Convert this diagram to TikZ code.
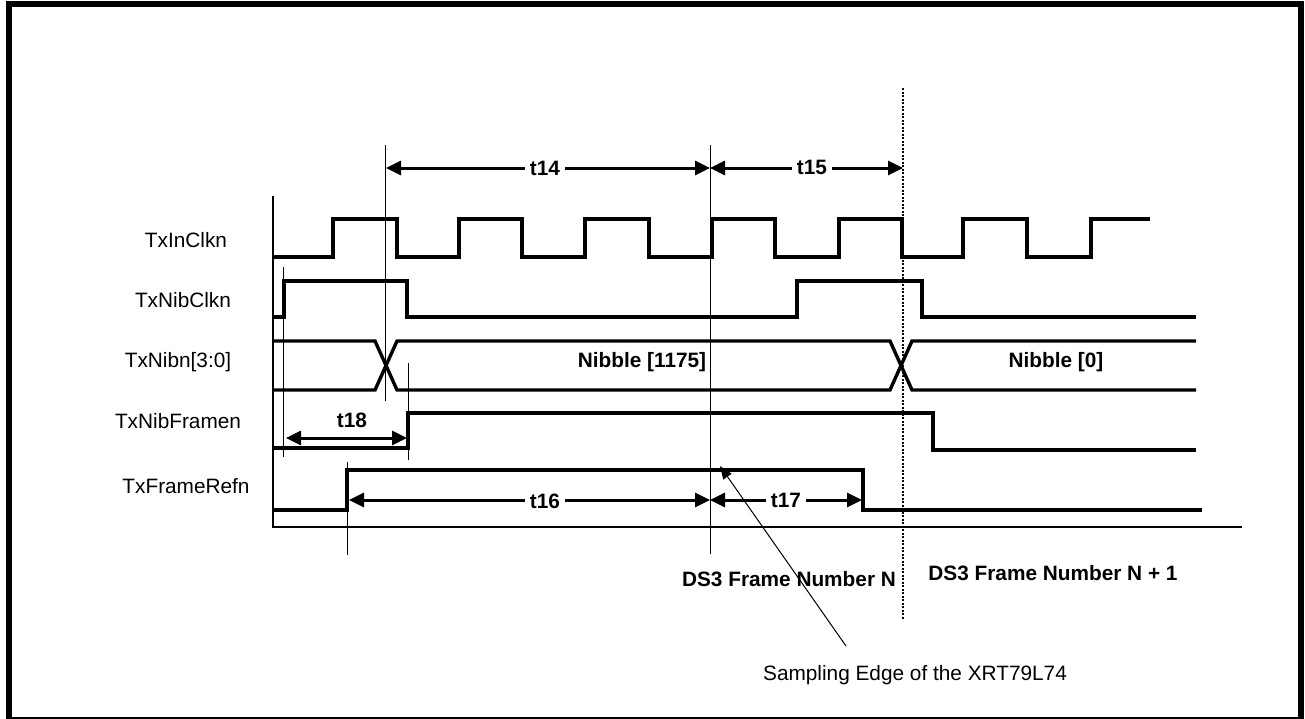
\documentclass[tikz,border=0pt]{standalone}
\usepackage{fontspec}
\setmainfont{Liberation Sans}
\usetikzlibrary{arrows.meta}
\begin{document}
\begin{tikzpicture}[x=1pt,y=-1pt,
  wave/.style={line width=3.4pt, line join=miter, line cap=butt},
  hair/.style={line width=1pt},
  dimarrow/.style={line width=3pt, {Triangle[length=15pt,width=14pt]}-{Triangle[length=15pt,width=14pt]}},
  sig/.style={font=\fontsize{20.8}{24}\selectfont, anchor=base, inner sep=0pt},
  lbl/.style={font=\fontsize{20.8}{24}\selectfont\bfseries, anchor=base, inner sep=0pt},
  dimlbl/.style={lbl, fill=white, inner xsep=5pt, inner ysep=1pt},
]
\useasboundingbox (0,0) rectangle (1305,718);
\draw[line width=5.5pt] (8.8,3.8) rectangle (1301,719.5);

% axis
\draw[line width=1.5pt] (273,196) -- (273,527) -- (1242,527);

% reference lines
\draw[hair] (385,145) -- (385,401);
\draw[hair] (710,145) -- (710,554);
\draw[hair] (283,267) -- (283,457);
\draw[hair] (408,363) -- (408,460);
\draw[hair] (347,462) -- (347,555);
\draw[line width=2pt, dash pattern=on 2pt off 1.5pt] (903,88) -- (903,620);

% signal labels
\node[sig] (lclk) at (186,247) {TxInClkn};
\node[sig] (lnib) at (183,307) {TxNibClkn};
\node[sig] (lbus) at (178,367) {TxNibn[3:0]};
\node[sig] (lfrm) at (178,428) {TxNibFramen};
\node[sig] (lref) at (186,493) {TxFrameRefn};

% TxInClkn
\draw[wave] (272,257) -- (333,257) -- (333,219) -- (397,219) -- (397,257)
  -- (459,257) -- (459,219) -- (522,219) -- (522,257) -- (585,257) -- (585,219)
  -- (649,219) -- (649,257) -- (712,257) -- (712,219) -- (775,219) -- (775,257)
  -- (839,257) -- (839,219) -- (902,219) -- (902,257) -- (963,257) -- (963,219)
  -- (1027,219) -- (1027,257) -- (1091,257) -- (1091,219) -- (1150,219);

% TxNibClkn
\draw[wave] (272,317) -- (284,317) -- (284,281) -- (407,281) -- (407,317)
  -- (797,317) -- (797,281) -- (922,281) -- (922,317) -- (1196,317);

% TxNibn[3:0]
\draw[wave] (272,341) -- (375,341) -- (397,390) -- (890,390) -- (912,341) -- (1196,341);
\draw[wave] (272,390) -- (375,390) -- (397,341) -- (890,341) -- (912,390) -- (1196,390);
\node[lbl] (n1175) at (642,367) {Nibble [1175]};
\node[lbl] (n0) at (1056,367) {Nibble [0]};

% TxNibFramen
\draw[wave] (272,448) -- (408,448) -- (408,413) -- (933,413) -- (933,450) -- (1196,450);

% TxFrameRefn
\draw[wave] (272,510) -- (347,510) -- (347,470) -- (863,470) -- (863,510) -- (1202,510);

% dimension arrows
\coordinate (a14) at (386,168);
\coordinate (b14) at (710,168);
\coordinate (b15) at (903,168);
\draw[dimarrow] (a14) -- (b14);
\draw[dimarrow] (b14) -- (b15);
\node[dimlbl] (t14) at (545,175) {t14};
\node[dimlbl] (t15) at (812,174) {t15};

\coordinate (a18) at (286,438);
\coordinate (b18) at (407,438);
\draw[dimarrow] (a18) -- (b18);
\node[lbl] (t18) at (352,427) {t18};

\coordinate (a16) at (349,500);
\coordinate (b16) at (710,500);
\coordinate (b17) at (862,500);
\draw[dimarrow] (a16) -- (b16);
\draw[dimarrow] (b16) -- (b17);
\node[dimlbl] (t16) at (545,508) {t16};
\node[dimlbl] (t17) at (786,507) {t17};

% frame labels
\node[lbl] (fn) at (789,586) {DS3 Frame Number N};
\node[lbl] (fn1) at (1053,580) {DS3 Frame Number N + 1};

% sampling edge
\node[sig] (samp) at (915,680) {Sampling Edge of the XRT79L74};
\coordinate (stail) at (846,646);
\coordinate (stip) at (720,466);
\draw[line width=1pt, -{Triangle[length=13pt,width=10pt]}] (stail) -- (stip);
\end{tikzpicture}
\end{document}
